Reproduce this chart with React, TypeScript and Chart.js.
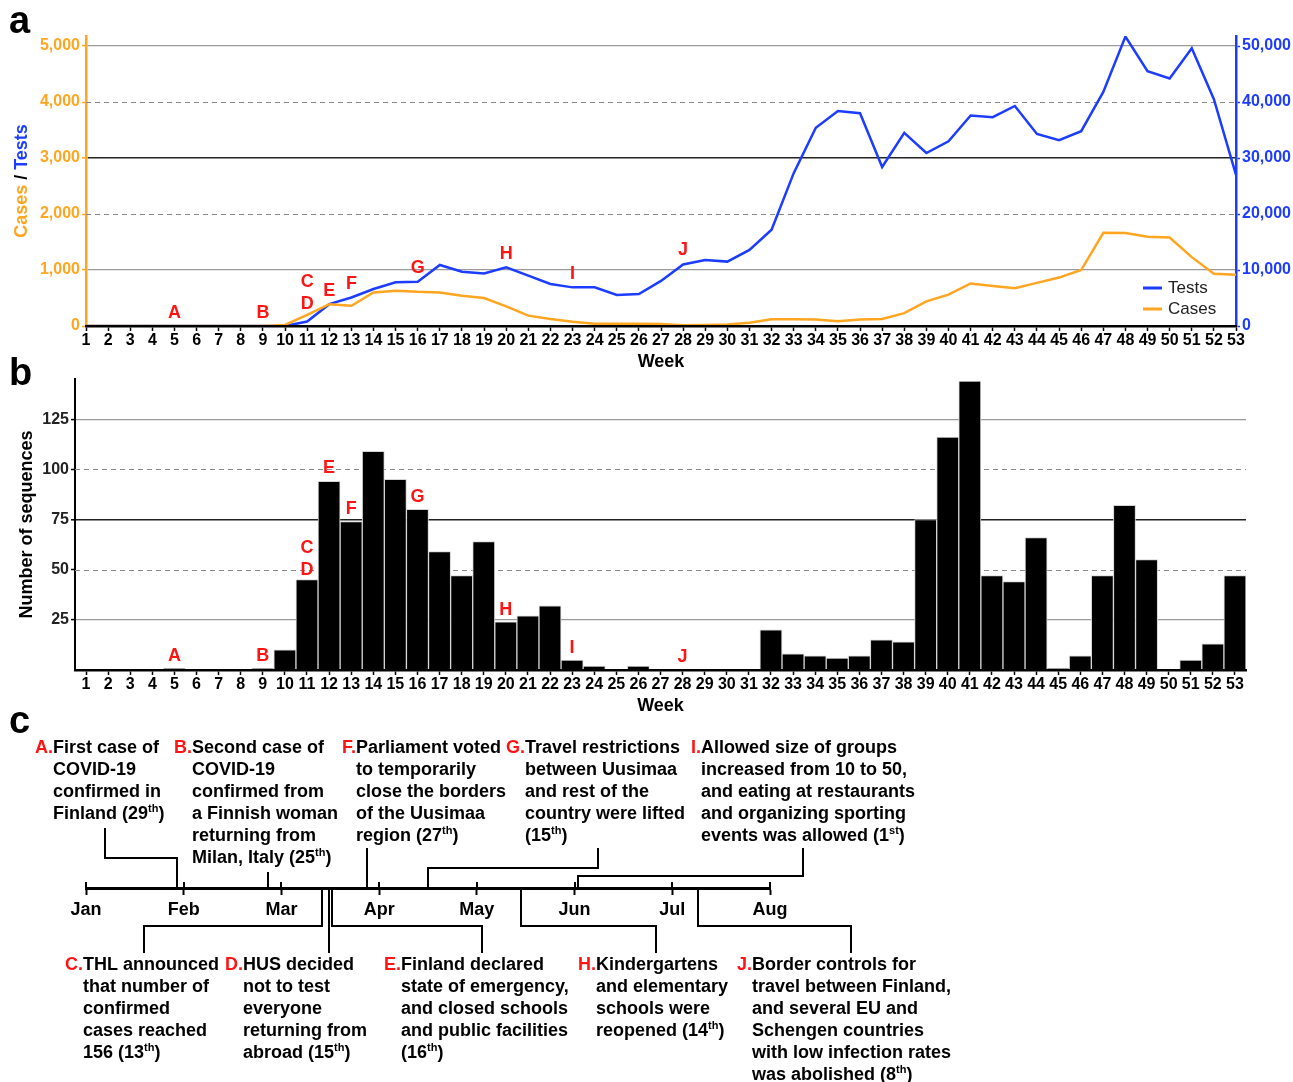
import React, { useEffect, useRef } from 'react';
import { Chart, registerables } from 'chart.js';
Chart.register(...registerables);

// ---------------- DATA ----------------
const WEEK_LABELS = ['1','2','3','4','5','6','7','8','9','10','11','12','13','14','15','16','17','18','19','20','21','22','23','24','25','26','27','28','29','30','31','32','33','34','35','36','37','38','39','40','41','42','43','44','45','46','47','48','49','50','51','52','53'];

const TESTS = [0,0,0,0,0,0,0,0,0,0, 800,3900,5100,6600,7800,7900,10900,9700,9400,10500, 9000,7500,6900,6900,5550,5700,8050,11000,11800,11500, 13600,17200,27300,35400,38400,38000,28400,34500,30900,33000, 37600,37300,39300,34300,33200,34800,41800,51700,45500,44200, 49600,40500,27000];

const CASES = [0,0,0,0,0,0,0,0,0,20, 200,390,360,600,630,610,600,540,500,350, 185,125,75,40,40,40,35,15,20,25, 60,120,120,115,85,115,125,230,440,560, 760,715,675,770,865,1000,1665,1660,1595,1580, 1230,935,915];

const SEQUENCES = [0,0,0,0,1,0,0,0,1,10, 45,94,74,109,95,80,59,47,64,24, 27,32,5,2,0,2,0,0,0,0, 0,20,8,7,6,7,15,14,75,116, 144,47,44,66,1,7,47,82,55,0, 5,13,47];

const CASES_TICKS = [0, 1000, 2000, 3000, 4000, 5000];
const TESTS_TICKS = [0, 10000, 20000, 30000, 40000, 50000];
const SEQ_TICKS = [25, 50, 75, 100, 125];

// Event letters marked on panels a and b (week and anchor value in axis units)
const MARK_LETTERS = ['A','B','C','D','E','F','G','H','I','J'];
const MARK_WEEKS = [5, 9, 11, 11, 12, 13, 16, 20, 23, 28];
const MARK_A_VALUES = [230, 230, 786, 393, 625, 750, 1036, 1286, 929, 1357];
const MARK_B_VALUES = [7, 7, 61, 50, 100.5, 80, 86, 30, 11, 6.5];

// Timeline (panel c)
const MONTH_LABELS = ['Jan','Feb','Mar','Apr','May','Jun','Jul','Aug'];
const DAYS_IN_MONTH = [31, 29, 31, 30, 31, 30, 31, 31];
const EVENT_LETTERS = ['A','B','C','D','E','F','G','H','I','J'];
const EVENT_MONTH = [0, 1, 2, 2, 2, 2, 3, 4, 5, 6];
const EVENT_DAY = [29, 25, 13, 15, 16, 27, 15, 14, 1, 8];
const EVENT_TEXT = [
  ['First case of', 'COVID-19', 'confirmed in', 'Finland (29{th})'],
  ['Second case of', 'COVID-19', 'confirmed from', 'a Finnish woman', 'returning from', 'Milan, Italy (25{th})'],
  ['THL announced', 'that number of', 'confirmed', 'cases reached', '156 (13{th})'],
  ['HUS decided', 'not to test', 'everyone', 'returning from', 'abroad (15{th})'],
  ['Finland declared', 'state of emergency,', 'and closed schools', 'and public facilities', '(16{th})'],
  ['Parliament voted', 'to temporarily', 'close the borders', 'of the Uusimaa', 'region (27{th})'],
  ['Travel restrictions', 'between Uusimaa', 'and rest of the', 'country were lifted', '(15{th})'],
  ['Kindergartens', 'and elementary', 'schools were', 'reopened (14{th})'],
  ['Allowed size of groups', 'increased from 10 to 50,', 'and eating at restaurants', 'and organizing sporting', 'events was allowed (1{st})'],
  ['Border controls for', 'travel between Finland,', 'and several EU and', 'Schengen countries', 'with low infection rates', 'was abolished (8{th})'],
];

// ---------------- LAYOUT / STYLE ----------------
const FONT = "'Liberation Sans', Arial, Helvetica, sans-serif";
const ORANGE = '#ffa51f';
const BLUE = '#1c3cff';
const RED = '#ff1414';

const A_TOP = 0, A_H = 385;
const B_TOP = 350, B_H = 372;
const C_TOP = 700, C_H = 382;

type Lay = { side: 'above' | 'below'; textX: number; stemX?: number; stemY: number; elbowY?: number };
const EVENT_LAYOUT: Record<string, Lay> = {
  A: { side: 'above', textX: 53, stemX: 105, stemY: 828, elbowY: 858 },
  B: { side: 'above', textX: 192, stemY: 872 },
  F: { side: 'above', textX: 356, stemY: 848 },
  G: { side: 'above', textX: 525, stemX: 598, stemY: 848, elbowY: 868 },
  I: { side: 'above', textX: 701, stemX: 803, stemY: 848, elbowY: 876 },
  C: { side: 'below', textX: 83, stemX: 144, stemY: 953, elbowY: 926 },
  D: { side: 'below', textX: 243, stemY: 953 },
  E: { side: 'below', textX: 401, stemX: 482, stemY: 953, elbowY: 926 },
  H: { side: 'below', textX: 596, stemX: 656, stemY: 953, elbowY: 926 },
  J: { side: 'below', textX: 752, stemX: 851, stemY: 953, elbowY: 926 },
};
const ABOVE_FIRST_Y = 748, BELOW_FIRST_Y = 965, LINE_H = 22, TIMELINE_Y = 888;

// ---------------- HELPERS ----------------
function gridColor(solid: Record<number, string>) {
  return (c: any) => (c.tick && solid[c.tick.value] !== undefined ? solid[c.tick.value] : 'rgba(0,0,0,0)');
}
function gridWidth(widths: Record<number, number>) {
  return (c: any) => (c.tick && widths[c.tick.value] !== undefined ? widths[c.tick.value] : 1);
}
function drawDashed(chart: any, axisId: string, values: number[]) {
  const { ctx, chartArea } = chart;
  const s = chart.scales[axisId];
  ctx.save();
  ctx.strokeStyle = '#8a8a8a';
  ctx.lineWidth = 1.2;
  ctx.setLineDash([5, 4]);
  values.forEach((v) => {
    const py = Math.round(s.getPixelForValue(v)) + 0.5;
    ctx.beginPath();
    ctx.moveTo(chartArea.left, py);
    ctx.lineTo(chartArea.right, py);
    ctx.stroke();
  });
  ctx.restore();
}
function drawRich(ctx: CanvasRenderingContext2D, text: string, x: number, y: number, size: number, color: string) {
  const parts = text.split(/(\{[^}]*\})/).filter(Boolean);
  let cx = x;
  ctx.fillStyle = color;
  ctx.textAlign = 'left';
  ctx.textBaseline = 'middle';
  for (const p of parts) {
    if (p[0] === '{') {
      const s = p.slice(1, -1);
      ctx.font = `bold ${Math.round(size * 0.6)}px ${FONT}`;
      ctx.fillText(s, cx, y - size * 0.3);
      cx += ctx.measureText(s).width;
    } else {
      ctx.font = `bold ${size}px ${FONT}`;
      ctx.fillText(p, cx, y);
      cx += ctx.measureText(p).width;
    }
  }
}
function panelLetter(ctx: CanvasRenderingContext2D, t: string, baseline: number) {
  ctx.save();
  ctx.fillStyle = '#000';
  ctx.font = `bold 38px ${FONT}`;
  ctx.textAlign = 'left';
  ctx.textBaseline = 'alphabetic';
  ctx.fillText(t, 9, baseline);
  ctx.restore();
}
function marks(chart: any, yId: string, values: number[]) {
  const { ctx } = chart;
  const xs = chart.scales.x, ys = chart.scales[yId];
  ctx.save();
  ctx.fillStyle = RED;
  ctx.font = `bold 18px ${FONT}`;
  ctx.textAlign = 'center';
  ctx.textBaseline = 'middle';
  MARK_LETTERS.forEach((l, i) => {
    ctx.fillText(l, xs.getPixelForValue(MARK_WEEKS[i] - 1), ys.getPixelForValue(values[i]));
  });
  ctx.restore();
}

// ---------------- PANEL A ----------------
const panelAPlugin = {
  id: 'panelA',
  beforeDatasetsDraw(chart: any) {
    drawDashed(chart, 'y', [2000, 4000]);
  },
  afterDraw(chart: any) {
    const { ctx, chartArea } = chart;
    panelLetter(ctx, 'a', 33 - A_TOP);
    ctx.save();
    ctx.fillStyle = '#000';
    ctx.font = `bold 18px ${FONT}`;
    ctx.textAlign = 'center';
    ctx.textBaseline = 'middle';
    ctx.fillText('Week', (chartArea.left + chartArea.right) / 2, chartArea.bottom + 36);
    // y title
    ctx.translate(22, (chartArea.top + chartArea.bottom) / 2);
    ctx.rotate(-Math.PI / 2);
    const segs: [string, string][] = [['Cases', ORANGE], [' / ', '#000'], ['Tests', BLUE]];
    const total = segs.reduce((a, s) => a + ctx.measureText(s[0]).width, 0);
    let x = -total / 2;
    ctx.textAlign = 'left';
    segs.forEach(([t, c]) => {
      ctx.fillStyle = c;
      ctx.fillText(t, x, 0);
      x += ctx.measureText(t).width;
    });
    ctx.restore();
    marks(chart, 'y', MARK_A_VALUES);
    // legend
    ctx.save();
    const items: [string, string][] = [['Tests', BLUE], ['Cases', ORANGE]];
    items.forEach(([t, c], i) => {
      const y = 288 - A_TOP + i * 21;
      ctx.strokeStyle = c;
      ctx.lineWidth = 3;
      ctx.beginPath();
      ctx.moveTo(1143, y);
      ctx.lineTo(1162, y);
      ctx.stroke();
      ctx.fillStyle = '#222';
      ctx.font = `17px ${FONT}`;
      ctx.textAlign = 'left';
      ctx.textBaseline = 'middle';
      ctx.fillText(t, 1168, y);
    });
    ctx.restore();
  },
};

function configA(): any {
  return {
    type: 'line',
    data: {
      labels: WEEK_LABELS,
      datasets: [
        { label: 'Cases', data: CASES, yAxisID: 'y', borderColor: ORANGE, borderWidth: 2.5, pointRadius: 0, tension: 0 },
        { label: 'Tests', data: TESTS, yAxisID: 'y1', borderColor: BLUE, borderWidth: 2.5, pointRadius: 0, tension: 0 },
      ],
    },
    options: {
      animation: false,
      responsive: false,
      events: [],
      layout: { padding: { top: 36, left: 0, right: 0, bottom: 0 } },
      plugins: { legend: { display: false }, tooltip: { enabled: false } },
      scales: {
        x: {
          type: 'category',
          offset: false,
          afterFit: (s: any) => { s.height = A_H - 326; },
          grid: { drawOnChartArea: false, offset: false, tickLength: 5, tickColor: '#000', tickWidth: 1.5 },
          border: { color: '#000', width: 2.5, z: 1 },
          ticks: { autoSkip: false, maxRotation: 0, minRotation: 0, padding: 0, color: '#000', font: { family: FONT, size: 16, weight: 'bold' } },
        },
        y: {
          position: 'left',
          min: 0,
          max: 5180,
          afterFit: (s: any) => { s.width = 86; },
          afterBuildTicks: (s: any) => { s.ticks = CASES_TICKS.map((v) => ({ value: v })); },
          grid: {
            color: gridColor({ 1000: '#9a9a9a', 3000: '#222', 5000: '#9a9a9a' }),
            lineWidth: gridWidth({ 1000: 1.2, 3000: 1.6, 5000: 1.2 }),
            tickColor: ORANGE, tickLength: 4, tickWidth: 1.5,
          },
          border: { color: ORANGE, width: 2.5 },
          ticks: { padding: 2, color: ORANGE, font: { family: FONT, size: 16, weight: 'bold' } },
        },
        y1: {
          position: 'right',
          min: 0,
          max: 51800,
          afterFit: (s: any) => { s.width = 1293 - 1236; },
          afterBuildTicks: (s: any) => { s.ticks = TESTS_TICKS.map((v) => ({ value: v })); },
          grid: { drawOnChartArea: false, tickColor: BLUE, tickLength: 4, tickWidth: 1.5 },
          border: { color: BLUE, width: 2.5 },
          ticks: { padding: 2, color: BLUE, font: { family: FONT, size: 16, weight: 'bold' } },
        },
      },
    },
    plugins: [panelAPlugin],
  };
}

// ---------------- PANEL B ----------------
const panelBPlugin = {
  id: 'panelB',
  beforeDatasetsDraw(chart: any) {
    drawDashed(chart, 'y', [50, 100]);
  },
  afterDraw(chart: any) {
    const { ctx, chartArea } = chart;
    panelLetter(ctx, 'b', 385 - B_TOP);
    ctx.save();
    ctx.fillStyle = '#000';
    ctx.font = `bold 18px ${FONT}`;
    ctx.textAlign = 'center';
    ctx.textBaseline = 'middle';
    ctx.fillText('Week', (chartArea.left + chartArea.right) / 2, chartArea.bottom + 36);
    ctx.translate(27, (chartArea.top + chartArea.bottom) / 2);
    ctx.rotate(-Math.PI / 2);
    ctx.fillText('Number of sequences', 0, 0);
    ctx.restore();
    marks(chart, 'y', MARK_B_VALUES);
  },
};

function configB(): any {
  return {
    type: 'bar',
    data: {
      labels: WEEK_LABELS,
      datasets: [
        { label: 'Sequences', data: SEQUENCES, backgroundColor: '#000', borderColor: '#d4d4d4', borderWidth: 1, barPercentage: 1, categoryPercentage: 1 },
      ],
    },
    options: {
      animation: false,
      responsive: false,
      events: [],
      layout: { padding: { top: 379 - B_TOP, left: 0, right: 1293 - 1246, bottom: 0 } },
      plugins: { legend: { display: false }, tooltip: { enabled: false } },
      scales: {
        x: {
          type: 'category',
          offset: true,
          afterFit: (s: any) => { s.height = B_H - (670 - B_TOP); },
          grid: { drawOnChartArea: false, offset: false, tickLength: 5, tickColor: '#000', tickWidth: 1.5 },
          border: { color: '#000', width: 2.5, z: 1 },
          ticks: { autoSkip: false, maxRotation: 0, minRotation: 0, padding: 0, color: '#000', font: { family: FONT, size: 16, weight: 'bold' } },
        },
        y: {
          min: 0,
          max: 145,
          afterFit: (s: any) => { s.width = 75; },
          afterBuildTicks: (s: any) => { s.ticks = SEQ_TICKS.map((v) => ({ value: v })); },
          grid: {
            color: gridColor({ 25: '#9a9a9a', 75: '#222', 125: '#9a9a9a' }),
            lineWidth: gridWidth({ 25: 1.2, 75: 1.6, 125: 1.2 }),
            tickColor: '#000', tickLength: 4, tickWidth: 1.5,
          },
          border: { color: '#000', width: 2 },
          ticks: { padding: 2, color: '#222', font: { family: FONT, size: 16, weight: 'bold' } },
        },
      },
    },
    plugins: [panelBPlugin],
  };
}

// ---------------- PANEL C ----------------
const eventValue = (i: number) => EVENT_MONTH[i] + EVENT_DAY[i] / DAYS_IN_MONTH[EVENT_MONTH[i]];

const panelCPlugin = {
  id: 'panelC',
  afterDraw(chart: any) {
    const { ctx, chartArea } = chart;
    const xs = chart.scales.x;
    const axisY = chartArea.bottom;
    panelLetter(ctx, 'c', 733 - C_TOP);
    ctx.save();
    // upward half of month ticks
    ctx.strokeStyle = '#000';
    ctx.lineWidth = 2;
    MONTH_LABELS.forEach((_, i) => {
      const px = Math.round(xs.getPixelForValue(i));
      ctx.beginPath();
      ctx.moveTo(px, axisY - 6);
      ctx.lineTo(px, axisY);
      ctx.stroke();
    });
    // connectors
    ctx.lineWidth = 2;
    ctx.lineJoin = 'miter';
    EVENT_LETTERS.forEach((l, i) => {
      const L = EVENT_LAYOUT[l];
      const ex = Math.round(xs.getPixelForValue(eventValue(i)));
      const pts: [number, number][] = [];
      const sy = L.stemY - C_TOP;
      if (L.side === 'above') {
        if (L.stemX !== undefined) {
          const ey = (L.elbowY as number) - C_TOP;
          pts.push([L.stemX, sy], [L.stemX, ey], [ex, ey], [ex, axisY]);
        } else {
          pts.push([ex, sy], [ex, axisY]);
        }
      } else {
        if (L.stemX !== undefined) {
          const ey = (L.elbowY as number) - C_TOP;
          pts.push([ex, axisY], [ex, ey], [L.stemX, ey], [L.stemX, sy]);
        } else {
          pts.push([ex, axisY], [ex, sy]);
        }
      }
      ctx.beginPath();
      pts.forEach(([x, y], k) => (k === 0 ? ctx.moveTo(x, y) : ctx.lineTo(x, y)));
      ctx.stroke();
      // text
      const first = (L.side === 'above' ? ABOVE_FIRST_Y : BELOW_FIRST_Y) - C_TOP;
      ctx.font = `bold 18px ${FONT}`;
      const lw = ctx.measureText(l + '.').width;
      ctx.fillStyle = RED;
      ctx.textAlign = 'left';
      ctx.textBaseline = 'middle';
      ctx.fillText(l + '.', L.textX - lw, first);
      EVENT_TEXT[i].forEach((line, k) => drawRich(ctx, line, L.textX, first + k * LINE_H, 18, '#000'));
    });
    ctx.restore();
  },
};

function configC(): any {
  return {
    type: 'scatter',
    data: {
      datasets: [
        { label: 'Events', data: EVENT_LETTERS.map((_, i) => ({ x: eventValue(i), y: 0 })), pointRadius: 0 },
      ],
    },
    options: {
      animation: false,
      responsive: false,
      events: [],
      layout: { padding: { top: 10, left: 86, right: 1293 - 770, bottom: 0 } },
      plugins: { legend: { display: false }, tooltip: { enabled: false } },
      scales: {
        x: {
          type: 'linear',
          min: 0,
          max: 7,
          afterFit: (s: any) => { s.height = C_H - (TIMELINE_Y - C_TOP); },
          afterBuildTicks: (s: any) => { s.ticks = MONTH_LABELS.map((_, i) => ({ value: i })); },
          grid: { drawOnChartArea: false, tickLength: 7, tickWidth: 2, tickColor: '#000' },
          border: { color: '#000', width: 3 },
          ticks: {
            padding: 4,
            color: '#000',
            font: { family: FONT, size: 18, weight: 'bold' },
            callback: (_v: any, i: number) => MONTH_LABELS[i],
          },
        },
        y: { display: false, min: -1, max: 1 },
      },
    },
    plugins: [panelCPlugin],
  };
}

// ---------------- COMPONENT ----------------
export default function App() {
  const refA = useRef<HTMLCanvasElement>(null);
  const refB = useRef<HTMLCanvasElement>(null);
  const refC = useRef<HTMLCanvasElement>(null);

  useEffect(() => {
    const charts = [
      new Chart(refA.current as HTMLCanvasElement, configA()),
      new Chart(refB.current as HTMLCanvasElement, configB()),
      new Chart(refC.current as HTMLCanvasElement, configC()),
    ];
    return () => charts.forEach((c) => c.destroy());
  }, []);

  const cv = (top: number, h: number): React.CSSProperties => ({ position: 'absolute', left: 0, top, width: 1293, height: h, display: 'block' });

  return (
    <div style={{ position: 'absolute', left: 0, top: 0, width: 1293, height: 1082, background: '#fff', overflow: 'hidden' }}>
      <canvas ref={refA} width={1293} height={A_H} style={cv(A_TOP, A_H)} />
      <canvas ref={refB} width={1293} height={B_H} style={cv(B_TOP, B_H)} />
      <canvas ref={refC} width={1293} height={C_H} style={cv(C_TOP, C_H)} />
    </div>
  );
}
